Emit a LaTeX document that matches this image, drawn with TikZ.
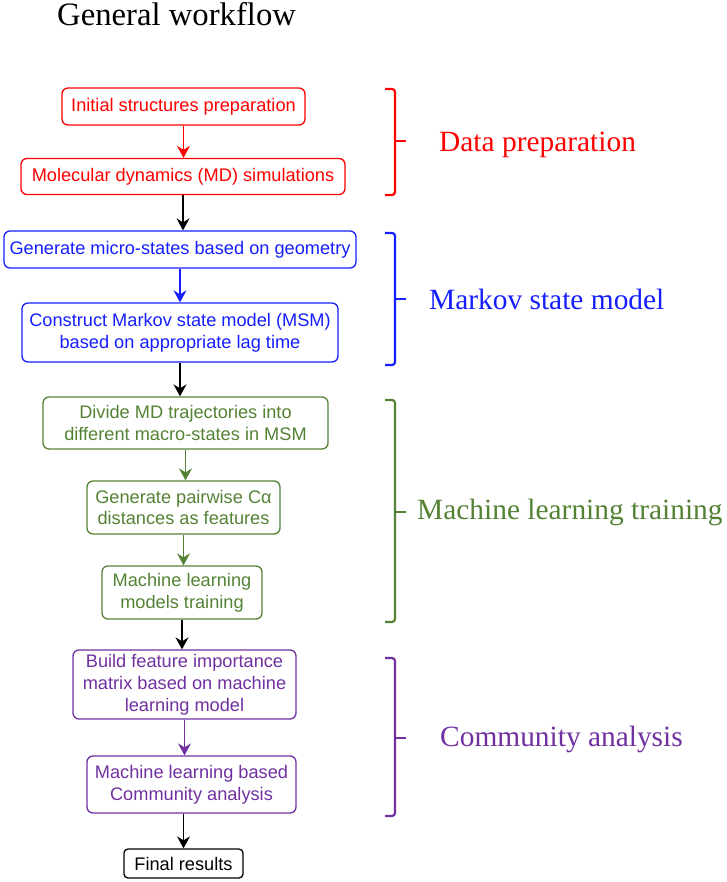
\documentclass[tikz,border=0pt]{standalone}
\usepackage{fontspec}
\setmainfont{Liberation Serif}
\setsansfont{Liberation Sans}
\usetikzlibrary{arrows.meta}
\usetikzlibrary{positioning}
\usepackage{xcolor}
\definecolor{prepred}{RGB}{255,0,0}
\definecolor{msmblue}{RGB}{20,30,255}
\definecolor{mlgreen}{RGB}{84,130,53}
\definecolor{compurple}{RGB}{112,48,160}
\tikzset{
 stage/.style={draw, rounded corners=6pt, line width=1.3pt, align=center, inner sep=0pt,
   font=\fontsize{18.2}{21.8}\selectfont\sffamily},
 flow/.style={line width=1.3pt, -{Stealth[length=12pt, width=13pt, inset=4pt]}},
 brace/.style={line width=2.2pt, rounded corners=3pt},
 grouplabel/.style={anchor=base west, inner sep=0pt, font=\fontsize{29.4}{32}\selectfont}
}

\begin{document}
\begin{tikzpicture}[x=1pt, y=-1pt]
\useasboundingbox (0,0) rectangle (726,882);
\node[anchor=base west, inner sep=0pt, font=\fontsize{32.7}{36}\selectfont] (title) at (57,26) {General workflow};

\node[stage, prepred, minimum width=243pt, minimum height=37pt] (init) at (183.5,106.5) {Initial structures preparation};
\node[stage, prepred, minimum width=324pt, minimum height=36pt] (md) at (183,176.5) {Molecular dynamics (MD) simulations};
\node[stage, msmblue, minimum width=352pt, minimum height=37pt] (micro) at (180,249.5) {Generate micro-states based on geometry};
\node[stage, msmblue, minimum width=316pt, minimum height=59pt] (msm) at (180,332.5) {Construct Markov state model (MSM)\\based on appropriate lag time};
\node[stage, mlgreen, minimum width=285pt, minimum height=52pt] (divide) at (185.5,423) {Divide MD trajectories into\\different macro-states in MSM};
\node[stage, mlgreen, minimum width=193pt, minimum height=53pt] (pairs) at (183.5,507.5) {Generate pairwise Cα\\distances as features};
\node[stage, mlgreen, minimum width=160pt, minimum height=53pt] (train) at (182,592.5) {Machine learning\\models training};
\node[stage, compurple, minimum width=223pt, minimum height=69pt] (fim) at (184.5,684.5) {Build feature importance\\matrix based on machine\\learning model};
\node[stage, compurple, minimum width=209pt, minimum height=57pt] (comm) at (191.5,784.5) {Machine learning based\\Community analysis};
\node[stage, black, rounded corners=4pt, minimum width=119pt, minimum height=29pt] (final) at (183.5,863.5) {Final results};

\draw[flow, prepred] (init.south) -- (init.south |- md.north);
\draw[flow, black] (md.south) -- (md.south |- micro.north);
\draw[flow, msmblue] (micro.south) -- (micro.south |- msm.north);
\draw[flow, black] (msm.south) -- (msm.south |- divide.north);
\draw[flow, mlgreen] (divide.south) -- (divide.south |- pairs.north);
\draw[flow, mlgreen] (pairs.south) -- (pairs.south |- train.north);
\draw[flow, black] (train.south) -- (train.south |- fim.north);
\draw[flow, compurple] (fim.south) -- (fim.south |- comm.north);
\draw[flow, black] (comm.south -| final.north) -- (final.north);

\foreach \t/\b/\m/\c/\n/\y/\x/\txt in {89/195/141/prepred/prep/152/439/Data preparation,
  233/365/299/msmblue/markov/309/429/Markov state model,
  400/622/512/mlgreen/learn/519/417/Machine learning training,
  658/816/738/compurple/community/746/440/Community analysis} {
 \draw[brace, \c] (385,\t) -- (395,\t) -- (395,\b) -- (385,\b);
 \draw[brace, \c] (395,\m) -- (406,\m);
 \node[grouplabel, \c] (\n) at (\x,\y) {\txt};
}
\end{tikzpicture}
\end{document}
